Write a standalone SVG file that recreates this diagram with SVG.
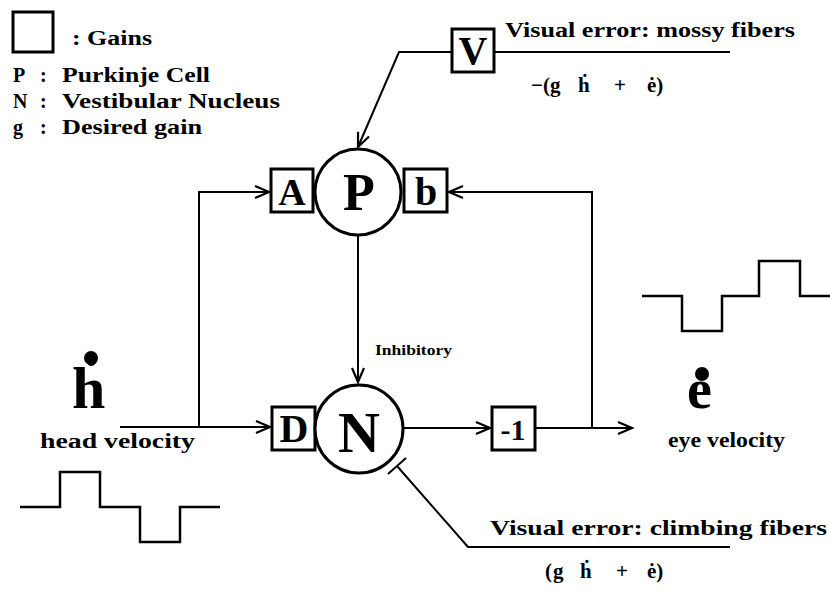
<svg xmlns="http://www.w3.org/2000/svg" width="830" height="595" viewBox="0 0 830 595">
<style>
text{font-family:"Liberation Serif","Times New Roman",serif;font-weight:bold;fill:#000}
.box{fill:#fff;stroke:#000;stroke-width:3}
.cell{fill:#fff;stroke:#000;stroke-width:3}
.ln{fill:none;stroke:#000;stroke-width:2}
.lg{font-size:20px}
.mid{text-anchor:middle}
.wave{fill:none;stroke:#000;stroke-width:2.5}
</style>
<defs>
<marker id="arr" viewBox="-16 -8 18 16" refX="0" refY="0" markerWidth="18" markerHeight="16" markerUnits="userSpaceOnUse" orient="auto" overflow="visible">
<path d="M-14,-6 L0,0 L-14,6" fill="none" stroke="#000" stroke-width="2.2"/>
</marker>
</defs>
<rect width="830" height="595" fill="#fff"/>

<g id="legend">
<rect class="box" x="13" y="12" width="40" height="40" stroke-width="4"/>
<text class="lg" x="72" y="45" textLength="80" lengthAdjust="spacingAndGlyphs">: Gains</text>
<text class="lg" x="13" y="82">P</text><text class="lg" x="40" y="82">:</text>
<text class="lg" x="62" y="82" textLength="148" lengthAdjust="spacingAndGlyphs">Purkinje Cell</text>
<text class="lg" x="13" y="108">N</text><text class="lg" x="40" y="108">:</text>
<text class="lg" x="62" y="108" textLength="218" lengthAdjust="spacingAndGlyphs">Vestibular Nucleus</text>
<text class="lg" x="13" y="134">g</text><text class="lg" x="40" y="134">:</text>
<text class="lg" x="62" y="134" textLength="140" lengthAdjust="spacingAndGlyphs">Desired gain</text>
</g>

<g id="connectors">
<path class="ln" d="M120,427 H270" marker-end="url(#arr)"/>
<path class="ln" d="M199,427 V192 H269" marker-end="url(#arr)"/>
<path class="ln" d="M358,236 V382" marker-end="url(#arr)"/>
<path class="ln" d="M404,428 H490" marker-end="url(#arr)"/>
<path class="ln" d="M536,428 H632" marker-end="url(#arr)"/>
<path class="ln" d="M592,428 V192 H449" marker-end="url(#arr)"/>
<path class="ln" d="M452,52 H399 L358,147" marker-end="url(#arr)"/>
<path class="ln" d="M494,52 H730"/>
<path class="ln" d="M730,547 H468 L397,466"/>
<path class="ln" d="M388,474 L406,458" stroke-width="2.5"/>
</g>

<g id="node-V">
<rect class="box" x="452" y="29" width="42" height="43"/>
<text class="mid" x="473" y="64" font-size="40">V</text>
</g>

<g id="node-A">
<rect class="box" x="271" y="169" width="42" height="43"/>
<text class="mid" x="292" y="205" font-size="38">A</text>
</g>

<g id="node-P">
<circle class="cell" cx="358" cy="192" r="43"/>
<text class="mid" x="359" y="210" font-size="52">P</text>
</g>

<g id="node-b">
<rect class="box" x="404" y="169" width="43" height="43"/>
<text class="mid" x="426" y="205" font-size="40">b</text>
</g>

<g id="node-D">
<rect class="box" x="272" y="407" width="43" height="43"/>
<text class="mid" x="294" y="442" font-size="40">D</text>
</g>

<g id="node-N">
<circle class="cell" cx="359" cy="429" r="44"/>
<text class="mid" x="359" y="452" font-size="58">N</text>
</g>

<g id="node-neg1">
<rect class="box" x="492" y="407" width="43" height="43"/>
<text class="mid" x="513" y="440" font-size="30">-1</text>
</g>

<g id="labels">
<text x="375" y="355" font-size="15" textLength="77" lengthAdjust="spacingAndGlyphs">Inhibitory</text>
<text x="505" y="37" font-size="21" textLength="290" lengthAdjust="spacingAndGlyphs">Visual error: mossy fibers</text>
<text y="92" font-size="21"><tspan x="531">−(</tspan><tspan x="550">g</tspan><tspan x="578">ḣ</tspan><tspan x="614">+</tspan><tspan x="647">ė)</tspan></text>
<text x="490" y="535" font-size="21" textLength="337" lengthAdjust="spacingAndGlyphs">Visual error: climbing fibers</text>
<text y="578" font-size="21"><tspan x="545">(</tspan><tspan x="553">g</tspan><tspan x="580">ḣ</tspan><tspan x="616">+</tspan><tspan x="647">ė)</tspan></text>
<text x="72" y="408" font-size="60">ḣ</text>
<circle cx="91" cy="358" r="7" fill="#000"/>
<text x="40" y="448" font-size="20" textLength="155" lengthAdjust="spacingAndGlyphs">head velocity</text>
<text x="687" y="408" font-size="56">ė</text>
<circle cx="702" cy="374" r="7" fill="#000"/>
<text x="668" y="447" font-size="20" textLength="117" lengthAdjust="spacingAndGlyphs">eye velocity</text>
</g>

<g id="waveforms">
<path class="wave" d="M20,507 H60 V472 H100 V507 H140 V542 H180 V507 H220"/>
<path class="wave" d="M642,296 H682 V331 H722 V296 H759 V261 H800 V296 H830"/>
</g>
</svg>
